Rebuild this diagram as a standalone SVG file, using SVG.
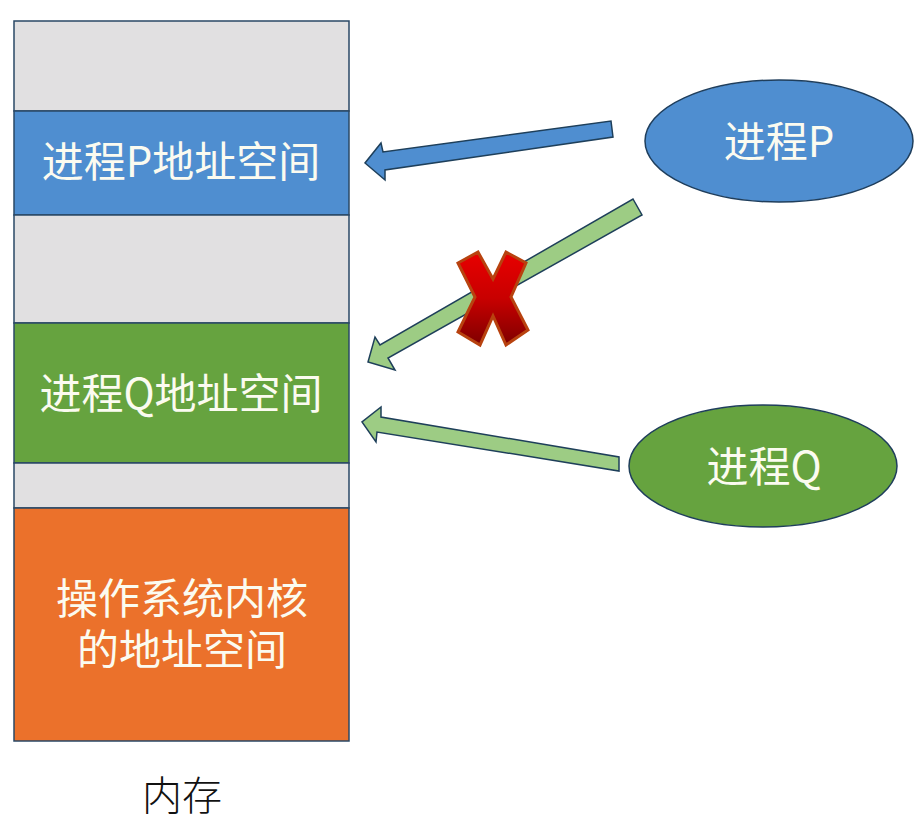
<svg xmlns="http://www.w3.org/2000/svg" width="920" height="830" viewBox="0 0 920 830">
<style>
.seg{stroke:#2A4866;stroke-width:1.5}
.lbl{font-family:"Noto Sans CJK SC","Noto Sans",sans-serif;font-size:42px;fill:#FBFBF0;text-anchor:middle}
.klbl{font-family:"Liberation Sans","Noto Sans CJK SC",sans-serif;font-size:42px;fill:#FBFBF0;text-anchor:middle}
.arr{stroke:#1E3F5A;stroke-width:1.5;stroke-linejoin:miter}
.ell{stroke:#1F3E5C;stroke-width:1.5}
</style>
<defs>
<linearGradient id="xg" x1="0" y1="0" x2="0" y2="1">
<stop offset="0" stop-color="#E80000"/>
<stop offset="0.5" stop-color="#C80000"/>
<stop offset="1" stop-color="#7E0000"/>
</linearGradient>
</defs>
<rect width="920" height="830" fill="#FFFFFF"/>
<g id="memory">
<rect class="seg" x="14" y="21" width="335" height="90" fill="#E1E0E1"/>
<g id="p-space">
<rect class="seg" x="14" y="111" width="335" height="104" fill="#4F8ED0"/>
<text class="lbl" x="181" y="177">进程P地址空间</text>
</g>
<rect class="seg" x="14" y="215" width="335" height="108" fill="#E1E0E1"/>
<g id="q-space">
<rect class="seg" x="14" y="323" width="335" height="140" fill="#66A33F"/>
<text class="lbl" x="181" y="409">进程Q地址空间</text>
</g>
<rect class="seg" x="14" y="463" width="335" height="45" fill="#E1E0E1"/>
<g id="kernel-space">
<rect class="seg" x="14" y="508" width="335" height="233" fill="#EB712B"/>
<text class="klbl" x="182" y="614">操作系统内核</text>
<text class="klbl" x="182" y="665">的地址空间</text>
</g>
<text x="182" y="810" font-family="Noto Sans CJK SC,sans-serif" font-size="40" font-weight="300" fill="#111" text-anchor="middle">内存</text>
</g>
<g id="connectors">
<polygon class="arr" fill="#4F8ED0" points="611,121 613,137 385,170 385,180 365,163 381,143 383,152"/>
<polygon class="arr" fill="#9DCC84" points="633,199 642,215 388,358 395,370 368,362 375,337 380,345"/>
<polygon class="arr" fill="#9DCC84" points="619,457 619,471 377,432 376,442 362,422 381,407 381,417"/>
</g>
<g id="cross" transform="translate(458,252)">
<polygon points="0,11 20,0 35,27 48,0 68,11 53,45 70,78 48,93 35,64 22,93 0,80 17,45" fill="url(#xg)" stroke="#B8420F" stroke-width="3" stroke-linejoin="miter"/>
</g>
<g id="process-p">
<ellipse class="ell" cx="779" cy="141" rx="134" ry="61" fill="#4F8ED0"/>
<text class="lbl" x="779" y="157">进程P</text>
</g>
<g id="process-q">
<ellipse class="ell" cx="763" cy="466" rx="134" ry="61" fill="#66A33F"/>
<text class="lbl" x="764" y="482">进程Q</text>
</g>
</svg>
